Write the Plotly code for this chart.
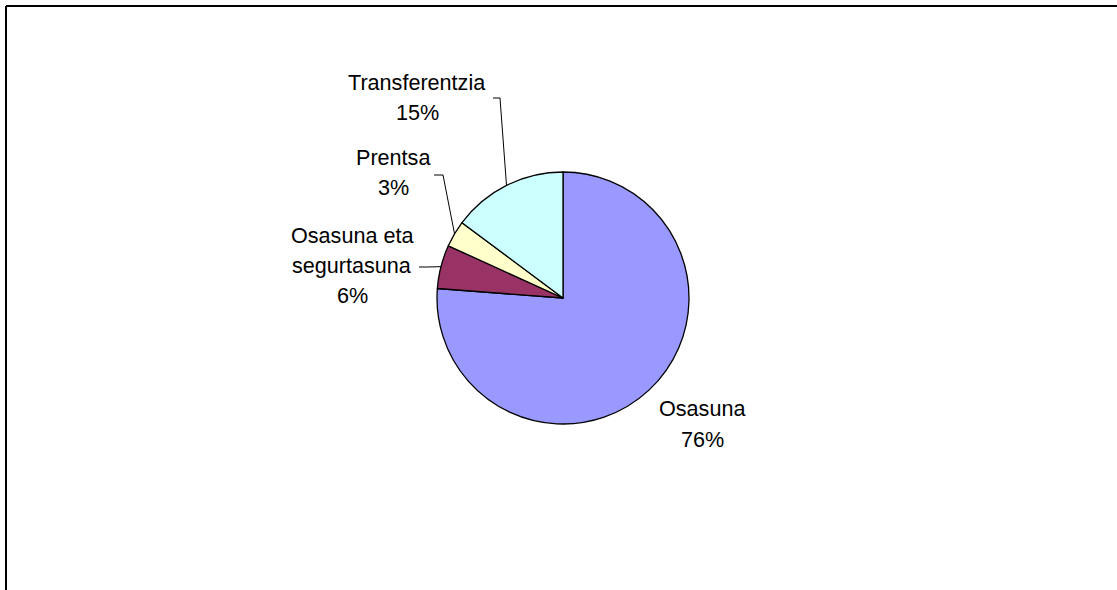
import math
import plotly.graph_objects as go

# ---- data ----
categories = ["Osasuna", "Osasuna eta segurtasuna", "Prentsa", "Transferentzia"]
label_lines = [["Osasuna"], ["Osasuna eta", "segurtasuna"], ["Prentsa"], ["Transferentzia"]]
values = [76.2, 5.6, 3.4, 14.8]
colors = ["#9999FF", "#993366", "#FFFFCC", "#CCFFFF"]

W, H = 1117, 590
CX, CY, R = 563, 298, 126  # pie centre / radius in px
LINE_H = 30  # label line spacing, px
FONT = dict(family="Liberation Sans, Arial", size=21.6, color="#000000")

# label layout (px): text block centre, leader elbow (None = no leader)
label_pos = {
    "Osasuna": (702, 424, None),
    "Osasuna eta segurtasuna": (352, 265, (419, 427, 267)),
    "Prentsa": (393, 172, (434, 443, 175)),
    "Transferentzia": (417, 97, (493, 500, 98)),
}

def px(x):
    return x / W

def py(y):
    return 1 - y / H

fig = go.Figure()
fig.add_trace(go.Pie(
    labels=categories,
    values=values,
    sort=False,
    direction="clockwise",
    rotation=0,
    textinfo="none",
    hoverinfo="label+percent",
    marker=dict(colors=colors, line=dict(color="#000000", width=1.3)),
    domain=dict(x=[px(CX - R), px(CX + R)], y=[py(CY + R), py(CY - R)]),
    showlegend=False,
))

total = sum(values)
shapes = []
annotations = []
cum = 0.0
for cat, lines, v in zip(categories, label_lines, values):
    mid = (cum + v / 2) / total * 2 * math.pi
    cum += v
    pct = round(v / total * 100)
    tx, ty, leader = label_pos[cat]
    all_lines = lines + [f"{pct}%"]
    n = len(all_lines)
    for i, line in enumerate(all_lines):
        ly = ty + (i - (n - 1) / 2) * LINE_H
        annotations.append(dict(
            x=px(tx), y=py(ly), xref="paper", yref="paper",
            text=line, showarrow=False, font=FONT,
            align="center", xanchor="center", yanchor="middle",
        ))
    if leader is not None:
        x0, x1, yl = leader
        ex = CX + R * math.sin(mid)
        ey = CY - R * math.cos(mid)
        path = f"M {px(x0)} {py(yl)} L {px(x1)} {py(yl)} L {px(ex)} {py(ey)}"
        shapes.append(dict(type="path", xref="paper", yref="paper", path=path,
                           line=dict(color="#000000", width=1)))

# chart frame (top and left edges visible)
shapes.append(dict(type="line", xref="paper", yref="paper",
                   x0=px(6), x1=1.0, y0=py(6), y1=py(6),
                   line=dict(color="#000000", width=2)))
shapes.append(dict(type="line", xref="paper", yref="paper",
                   x0=px(6), x1=px(6), y0=py(6), y1=0.0,
                   line=dict(color="#000000", width=2)))

fig.update_layout(
    width=W, height=H,
    margin=dict(l=0, r=0, t=0, b=0),
    paper_bgcolor="#FFFFFF",
    plot_bgcolor="#FFFFFF",
    shapes=shapes,
    annotations=annotations,
)

fig.write_html(
    "out.html",
    config={"displayModeBar": False},
    post_script="document.body.style.margin='0';document.body.style.overflow='hidden';",
)
